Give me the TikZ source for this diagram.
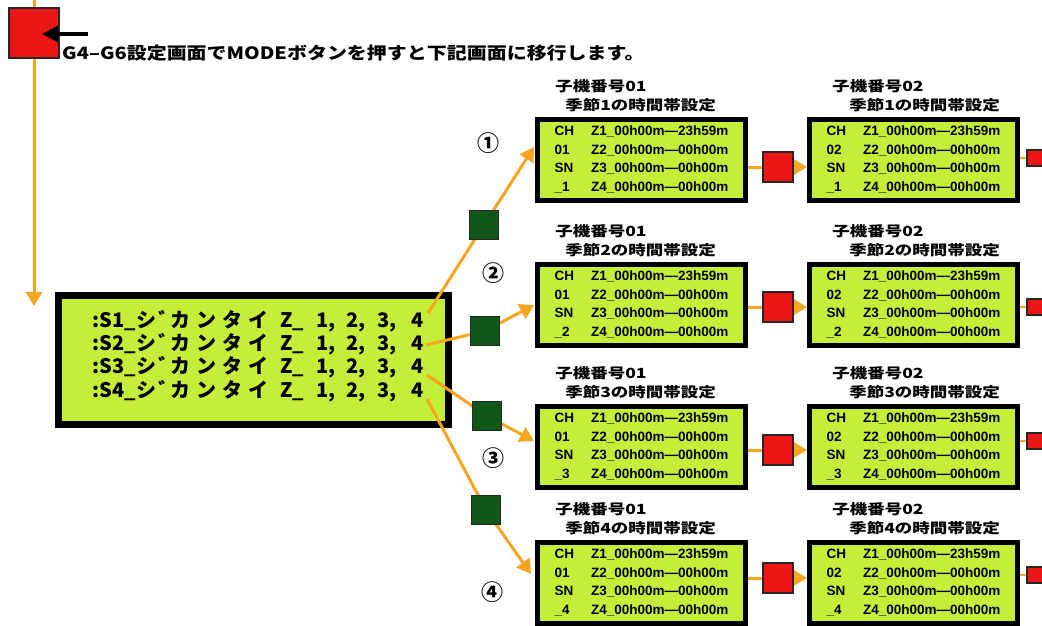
\documentclass[tikz,border=0pt]{standalone}
\usepackage{fontspec}
\newfontfamily\jp{Noto Sans CJK JP}
\newfontfamily\lcdf{Liberation Sans}
\usetikzlibrary{arrows.meta}
\definecolor{lcd}{RGB}{196,238,58}
\definecolor{sqred}{RGB}{236,22,22}
\definecolor{sqgreen}{RGB}{16,86,22}
\definecolor{org}{RGB}{245,165,30}
\newcommand\cellat[2]{\rlap{\hspace*{#1pt}#2}}
\newcommand\mainline[1]{\makebox[335pt][l]{\cellat{0}{:S#1\_}\cellat{44}{シ}\cellat{66}{゛}\cellat{78}{カ}\cellat{104}{ン}\cellat{130}{タ}\cellat{156}{イ}\cellat{188}{Z\_}\cellat{224}{1,}\cellat{254}{2,}\cellat{285}{3,}\cellat{319}{4}}}
\newcommand\lcdtext[2]{\begin{tabular}{@{}l@{\hspace{17pt}}l@{}}CH & Z1\_00h00m—23h59m\\ #1 & Z2\_00h00m—00h00m\\ SN & Z3\_00h00m—00h00m\\ \_#2 & Z4\_00h00m—00h00m\end{tabular}}
\tikzset{
  lcdbox/.style={draw=black, line width=5pt, fill=lcd, minimum width=208pt, minimum height=81pt, anchor=north west, inner sep=0pt, font=\lcdf\bfseries\fontsize{13.5}{18.5}\selectfont},
  mainbox/.style={draw=black, line width=7pt, fill=lcd, minimum width=390pt, minimum height=129pt, anchor=north west, inner sep=0pt},
  redsq/.style={draw=black!85, line width=1.2pt, fill=sqred, minimum size=#1, inner sep=0pt},
  greensq/.style={draw=black!85, line width=1.2pt, fill=sqgreen, minimum size=29pt, inner sep=0pt},
  conn/.style={draw=org, line width=3pt},
  tip/.style={-{Triangle[length=14pt,width=16pt]}},
  title/.style={anchor=west, inner sep=0pt, font=\jp\bfseries\fontsize{14}{16}\selectfont, xscale=1.25},
  circ/.style={inner sep=0pt, font=\jp\bfseries\fontsize{22}{24}\selectfont},
}
\begin{document}
\begin{tikzpicture}[x=1pt,y=-1pt]
\path[use as bounding box] (0,0) rectangle (1042,625);
\clip (0,0) rectangle (1042,625);
\fill[white] (0,0) rectangle (1042,625);

% top-left entry
\coordinate (top) at (34,0);
\coordinate (down) at (34,306);
\draw[conn, tip] (top) -- (down);
\node[redsq=50pt] (start) at (34,33) {};
\coordinate (harrowS) at (88,34);
\coordinate (harrowE) at (42,34);
\draw[line width=3.5pt, -{Triangle[length=16pt,width=16pt]}] (harrowS) -- (harrowE);
\node[anchor=west, inner sep=0pt, font=\jp\bfseries\fontsize{17}{19}\selectfont, xscale=1.175] (head) at (62,53) {G4–G6設定画面でMODEボタンを押すと下記画面に移行します。};

% main box
\node[mainbox] (main) at (55,292) {};
\node[anchor=west, inner sep=0pt, align=left, font=\jp\bfseries\fontsize{20}{23.3}\selectfont] (maintext) at (92,356)
  {\mainline{1}\\ \mainline{2}\\ \mainline{3}\\ \mainline{4}};

% boxes
\foreach \r/\y in {1/117, 2/262, 3/404, 4/540}{
  \node[lcdbox] (a\r) at (535,\y) {\lcdtext{01}{\r}};
  \node[lcdbox] (b\r) at (807,\y) {\lcdtext{02}{\r}};
  \node[title] (ta\r) at (555,\y-31) {子機番号01};
  \node[title] (sa\r) at (565,\y-12) {季節\r の時間帯設定};
  \node[title] (tb\r) at (832,\y-31) {子機番号02};
  \node[title] (sb\r) at (849,\y-12) {季節\r の時間帯設定};
}

% start points and targets
\coordinate (p1) at (428,313);
\coordinate (p2) at (426,345);
\coordinate (p3) at (427,375);
\coordinate (p4) at (427,399);
\coordinate (t1) at (534,147);
\coordinate (t2) at (534,305);
\coordinate (t3) at (534,441);
\coordinate (t4) at (531,574);
\coordinate (g1c) at (484,225);
\coordinate (g2c) at (485,331);
\coordinate (g3c) at (487,416);
\coordinate (g4c) at (486,510);

\foreach \i in {1,2,3,4}{
  \draw[conn, tip] (p\i) -- (g\i c) -- (t\i);
  \node[greensq] (g\i) at (g\i c) {};
}

% horizontal flow between columns
\foreach \i/\ry/\ey in {1/167/158, 2/307/307, 3/450/441, 4/578/575}{
  \coordinate (rc\i) at (778,\ry);
  \draw[conn] (a\i.east |- rc\i) -- (rc\i);
  \draw[conn, tip] (rc\i) -- (b\i.west |- rc\i);
  \node[redsq=30pt] (r\i) at (rc\i) {};
  \node[redsq=16pt] (e\i) at (1035,\ey) {};
  \draw[conn, line width=1.5pt] (b\i.east |- e\i) -- (e\i.west);
}

% circled numbers
\node[circ] (c1) at (488,143) {①};
\node[circ] (c2) at (493,273) {②};
\node[circ] (c3) at (493,458) {③};
\node[circ] (c4) at (492,592) {④};
\end{tikzpicture}
\end{document}
